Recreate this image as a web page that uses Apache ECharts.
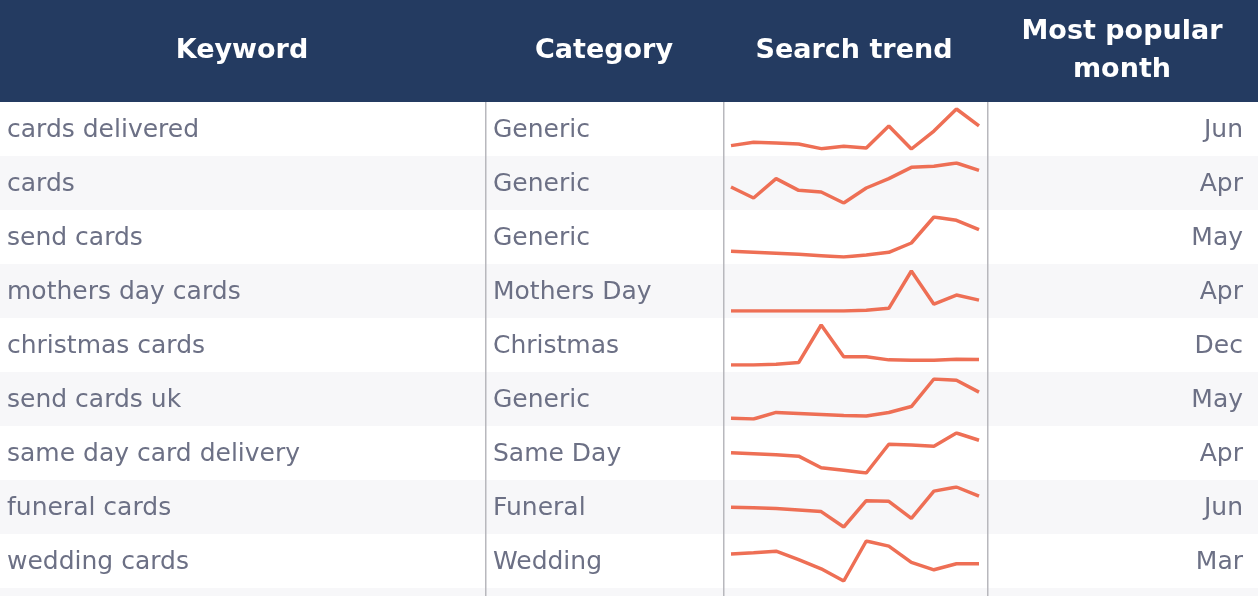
<!DOCTYPE html>
<html><head><meta charset="utf-8">
<script src="https://cdn.jsdelivr.net/npm/echarts@6/dist/echarts.min.js"></script>
<style>html,body{margin:0;padding:0;background:#fff}#c{width:1258px;height:596px}</style>
</head><body><div id="c"></div>
<script>
const keywords = ["cards delivered","cards","send cards","mothers day cards","christmas cards","send cards uk","same day card delivery","funeral cards","wedding cards"];
const categories = ["Generic","Generic","Generic","Mothers Day","Christmas","Generic","Same Day","Funeral","Wedding"];
const popularMonth = ["Jun","Apr","May","Apr","Dec","May","Apr","Jun","Mar"];
const headers = ["Keyword","Category","Search trend","Most popular\nmonth"];
// relative search interest (higher = more), 12 monthly points per keyword
const trend1 = [-138,-128,-130,-133,-147,-140,-145,-80,-148,-95,-30,-80];
const trend2 = [-262,-295,-237,-272,-277,-310,-265,-237,-203,-200,-190,-212];
const trend3 = [-455,-458,-461,-464,-468,-472,-466,-458,-430,-352,-362,-390];
const trend4 = [-635,-635,-635,-635,-635,-635,-633,-627,-517,-615,-588,-603];
const trend5 = [-797,-797,-795,-790,-680,-773,-773,-782,-783,-783,-780,-781];
const trend6 = [-148,-150,-130,-133,-136,-139,-141,-130,-112,-28,-32,-68];
const trend7 = [-250,-253,-256,-260,-295,-303,-311,-224,-226,-230,-190,-212];
const trend8 = [-412,-414,-416,-420,-425,-470,-393,-395,-445,-365,-353,-380];
const trend9 = [-553,-550,-545,-570,-597,-633,-515,-530,-578,-600,-582,-582];
const trends = [trend1,trend2,trend3,trend4,trend5,trend6,trend7,trend8,trend9];

const chart = echarts.init(document.getElementById('c'));
const headTop = 102, rowH = 54;
const textColor = '#6c7085';
const bodyFont = '25px "DejaVu Sans"';
const graphic = [];
graphic.push({type:'rect',shape:{x:0,y:0,width:1258,height:headTop},style:{fill:'#243b61'},z:0});
for (let i=0;i<10;i++){
  if (i%2===1) graphic.push({type:'rect',shape:{x:0,y:headTop+i*rowH,width:1258,height:rowH},style:{fill:'#f7f7f9'},z:0});
}
[485,723,987].forEach(x=>graphic.push({type:'rect',shape:{x:x,y:headTop,width:1.5,height:596-headTop},style:{fill:'#b8b8bd'},z:1}));
const hx = [242,604,854,1122];
headers.forEach((h,i)=>graphic.push({type:'text',x:hx[i],y:51,style:{text:h,fill:'#fff',font:'bold 27px "DejaVu Sans"',align:'center',verticalAlign:'middle',lineHeight:38},z:2}));
keywords.forEach((k,i)=>{
  const cy = headTop + i*rowH + 28;
  graphic.push({type:'text',x:7,y:cy,style:{text:k,fill:textColor,font:bodyFont,verticalAlign:'middle'},z:2});
  graphic.push({type:'text',x:493,y:cy,style:{text:categories[i],fill:textColor,font:bodyFont,verticalAlign:'middle'},z:2});
  graphic.push({type:'text',x:1243,y:cy,style:{text:popularMonth[i],fill:textColor,font:bodyFont,align:'right',verticalAlign:'middle'},z:2});
});
const grid=[],xAxis=[],yAxis=[],series=[];
trends.forEach((t,i)=>{
  grid.push({left:731,width:248,top:headTop+i*rowH+7,height:40});
  xAxis.push({type:'category',gridIndex:i,show:false,boundaryGap:false,data:t.map((_,j)=>j)});
  yAxis.push({type:'value',gridIndex:i,show:false,min:'dataMin',max:'dataMax'});
  series.push({type:'line',xAxisIndex:i,yAxisIndex:i,data:t,symbol:'none',lineStyle:{color:'#ee6f55',width:3.5},z:3,silent:true});
});
chart.setOption({animation:false,graphic,grid,xAxis,yAxis,series});
</script></body></html>
